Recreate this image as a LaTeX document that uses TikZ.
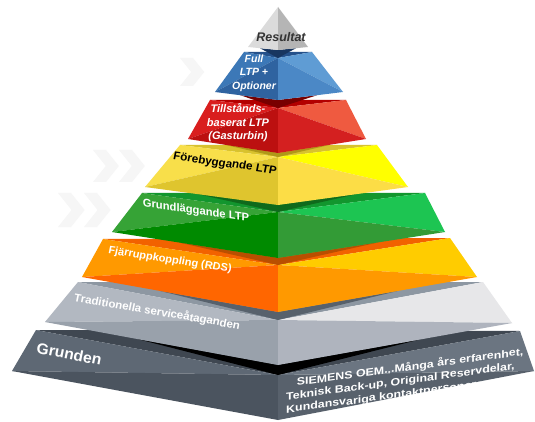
\documentclass[tikz,border=0pt]{standalone}
\usepackage{fontspec}
\setmainfont{Liberation Sans}
\usetikzlibrary{calc}
% layer colours: top, left-upper, left-lower, right-upper, right-lower, shadow
\definecolor{dTop}{HTML}{3F4751}\definecolor{dLU}{HTML}{5E6874}\definecolor{dLL}{HTML}{4B545F}\definecolor{dRU}{HTML}{6B7581}\definecolor{dRL}{HTML}{58616C}
\definecolor{gTop}{HTML}{8D97A2}\definecolor{gLU}{HTML}{B2B8C1}\definecolor{gLL}{HTML}{99A1AB}\definecolor{gRU}{HTML}{E7E7E9}\definecolor{gRL}{HTML}{AFB4BE}\definecolor{gSh}{HTML}{000000}
\definecolor{oTop}{HTML}{F26200}\definecolor{oLU}{HTML}{FF9900}\definecolor{oLL}{HTML}{FF6600}\definecolor{oRU}{HTML}{FFCC00}\definecolor{oRL}{HTML}{FF9900}\definecolor{oSh}{HTML}{57616C}
\definecolor{eTop}{HTML}{12962E}\definecolor{eLU}{HTML}{36A336}\definecolor{eLL}{HTML}{008A00}\definecolor{eRU}{HTML}{1DC552}\definecolor{eRL}{HTML}{339B36}\definecolor{eSh}{HTML}{B94F00}
\definecolor{yTop}{HTML}{D8C22E}\definecolor{yLU}{HTML}{F8DF4A}\definecolor{yLL}{HTML}{DFC52E}\definecolor{yRU}{HTML}{FFFF00}\definecolor{yRL}{HTML}{FCDD46}\definecolor{ySh}{HTML}{0F6A1C}
\definecolor{rTop}{HTML}{B30000}\definecolor{rLU}{HTML}{D91E1E}\definecolor{rLL}{HTML}{BC1010}\definecolor{rRU}{HTML}{EF5A40}\definecolor{rRL}{HTML}{D42020}\definecolor{rSh}{HTML}{B09818}
\definecolor{bTop}{HTML}{25518A}\definecolor{bLU}{HTML}{3C78B7}\definecolor{bLL}{HTML}{2F63A0}\definecolor{bRU}{HTML}{5F9CD4}\definecolor{bRL}{HTML}{4B88C6}\definecolor{bSh}{HTML}{780000}
\definecolor{pSh}{HTML}{183660}
\definecolor{pL}{HTML}{DBDBDB}\definecolor{pR}{HTML}{B5B5B5}
\definecolor{chevgray}{HTML}{F6F6F6}
\newcommand{\pyrlayer}[1]{%
  \fill[#1Top] (#1TL) -- (#1TR) -- (#1TF) -- cycle;
  \fill[#1LU] (#1TL) -- (#1TF) -- (#1BL) -- cycle;
  \fill[#1LL] (#1BL) -- (#1TF) -- (#1BF) -- cycle;
  \fill[#1RU] (#1TF) -- (#1TR) -- (#1BR) -- cycle;
  \fill[#1RL] (#1TF) -- (#1BR) -- (#1BF) -- cycle;}
\newcommand{\pyrshadow}[3]{% lower, upper, colour
  \fill[#3] ($(#2BL)!0.4!(#2BF)$) -- (#1TF) -- ($(#2BF)!0.6!(#2BR)$) -- (#2BF) -- cycle;}
\newcommand{\chevron}[3]{%
  \fill[chevgray] (#1,#2-#3) -- ++(13,0) -- ++(0.8*#3,#3) -- ++(-0.8*#3,#3) -- ++(-13,0) -- ++(0.8*#3,-#3) -- cycle;}
\tikzset{
  lbl/.style={font=\bfseries\fontsize{11}{13}\selectfont, inner sep=0pt},
  lbli/.style={font=\bfseries\itshape\fontsize{11}{13}\selectfont, inner sep=0pt},
}
\begin{document}
\begin{tikzpicture}[x=1pt,y=-1pt]
\useasboundingbox[fill=white] (0,0) rectangle (535,422);
% faint background chevrons
\chevron{93}{166}{16}
\chevron{119}{166}{16}
\chevron{58}{210}{17}
\chevron{84}{210}{17}
\chevron{180}{72}{14}
% coordinates of the layers
\coordinate (dTL) at (36,330);  \coordinate (dTR) at (520,331); \coordinate (dTF) at (278,375);
\coordinate (dBL) at (12,371);  \coordinate (dBR) at (534,371); \coordinate (dBF) at (278,420);
\coordinate (gTL) at (78,282);  \coordinate (gTR) at (483,282); \coordinate (gTF) at (278,320);
\coordinate (gBL) at (45,322);  \coordinate (gBR) at (512,323); \coordinate (gBF) at (278,365);
\coordinate (oTL) at (103,239); \coordinate (oTR) at (450,238); \coordinate (oTF) at (278,265);
\coordinate (oBL) at (82,277);  \coordinate (oBR) at (477,277); \coordinate (oBF) at (278,312);
\coordinate (eTL) at (142,193); \coordinate (eTR) at (425,193); \coordinate (eTF) at (278,212);
\coordinate (eBL) at (112,232); \coordinate (eBR) at (445,232); \coordinate (eBF) at (278,258);
\coordinate (yTL) at (180,145); \coordinate (yTR) at (377,145); \coordinate (yTF) at (278,157);
\coordinate (yBL) at (145,187); \coordinate (yBR) at (408,187); \coordinate (yBF) at (278,205);
\coordinate (rTL) at (210,100); \coordinate (rTR) at (346,100); \coordinate (rTF) at (278,108);
\coordinate (rBL) at (188,139); \coordinate (rBR) at (366,139); \coordinate (rBF) at (278,153);
\coordinate (bTL) at (244,52);  \coordinate (bTR) at (312,52);  \coordinate (bTF) at (278,58);
\coordinate (bBL) at (215,92);  \coordinate (bBR) at (343,92);  \coordinate (bBF) at (278,100);
\coordinate (pA) at (278,7); \coordinate (pBL) at (248,47); \coordinate (pBR) at (308,47); \coordinate (pBF) at (278,50);
% layers from bottom to top
\pyrlayer{d}
\pyrshadow{d}{g}{gSh}
\pyrlayer{g}
\pyrshadow{g}{o}{oSh}
\pyrlayer{o}
\pyrshadow{o}{e}{eSh}
\pyrlayer{e}
\pyrshadow{e}{y}{ySh}
\pyrlayer{y}
\pyrshadow{y}{r}{rSh}
\pyrlayer{r}
\pyrshadow{r}{b}{bSh}
\pyrlayer{b}
\pyrshadow{b}{p}{pSh}
\fill[pL] (pA) -- (pBL) -- (pBF) -- cycle;
\fill[pR] (pA) -- (pBF) -- (pBR) -- cycle;
% labels
\node[lbli, text=black!80, font=\bfseries\itshape\fontsize{12.5}{14}\selectfont] (res) at (281,37.5) {Resultat};
\node[lbli, white, align=center, font=\bfseries\itshape\fontsize{10.5}{13.5}\selectfont] (full) at (254,73) {Full\\LTP +\\Optioner};
\node[lbli, white, align=center, font=\bfseries\itshape\fontsize{11}{13.5}\selectfont] (tills) at (238,123) {Tillstånds-\\baserat LTP\\(Gasturbin)};
\node[lbli, black, font=\bfseries\itshape\fontsize{11.5}{13}\selectfont, yslant=-0.14] (fore) at (225,164) {Förebyggande LTP};
\node[lbl, white, font=\bfseries\fontsize{11.2}{13}\selectfont, yslant=-0.14] (grundl) at (196,211) {Grundläggande LTP};
\node[lbli, white, font=\bfseries\itshape\fontsize{10.9}{13}\selectfont, yslant=-0.15] (fjarr) at (170,260) {Fjärruppkoppling (RDS)};
\node[lbli, white, font=\bfseries\itshape\fontsize{11.3}{13}\selectfont, yslant=-0.17] (trad) at (157,312) {Traditionella serviceåtaganden};
\node[lbli, white, font=\bfseries\itshape\fontsize{15.5}{18}\selectfont, yslant=-0.18] (grunden) at (69,354) {Grunden};
\node[lbl, white, align=left, anchor=west, font=\bfseries\fontsize{10.5}{13}\selectfont, xscale=1.18, yslant=0.16] (siemens) at (286,397) {\hspace*{9pt}SIEMENS OEM...Många års erfarenhet,\\Teknisk Back-up, Original Reservdelar,\\Kundansvariga kontaktpersoner};
\end{tikzpicture}
\end{document}
